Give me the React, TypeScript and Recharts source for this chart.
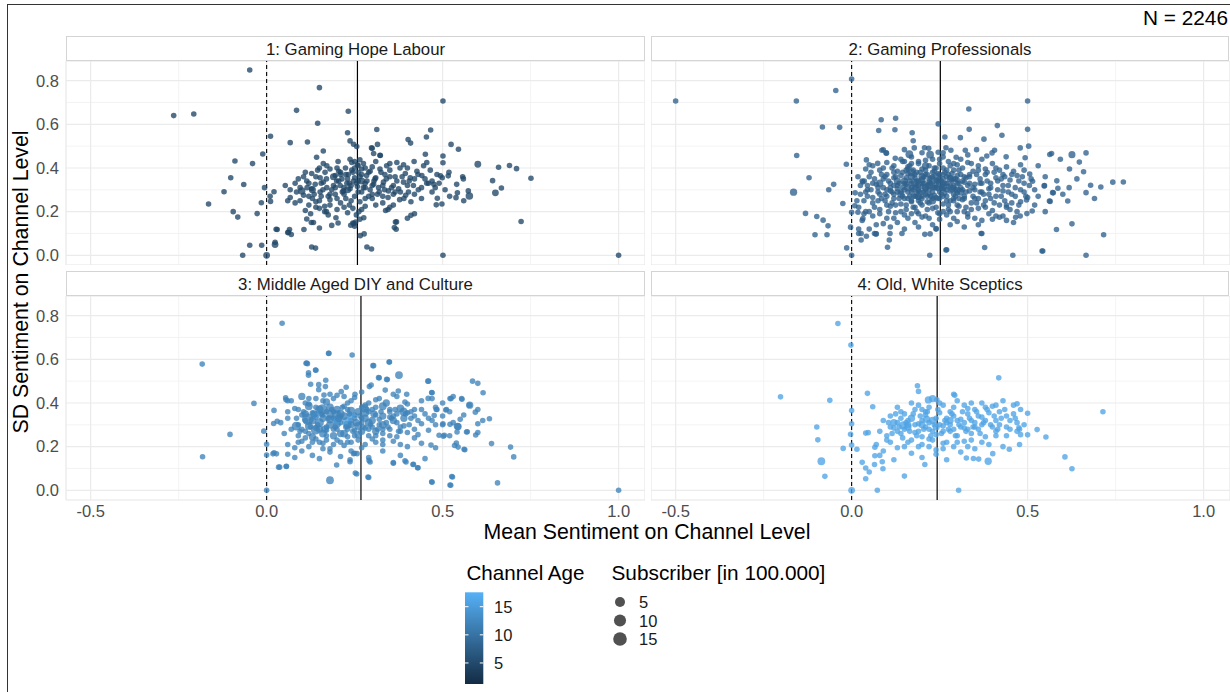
import React from 'react';
import { ScatterChart, Scatter, XAxis, YAxis, CartesianGrid, ReferenceLine } from 'recharts';

type Pt = number[]; // [mean sentiment, sd sentiment, subscribers (100k)?, channel age?]

const PANEL_TITLES = ['1: Gaming Hope Labour', '2: Gaming Professionals', '3: Middle Aged DIY and Culture', '4: Old, White Sceptics'];
const PANEL_MEANS = [0.258, 0.252, 0.268, 0.243];
const PANEL_AGES = [4.5, 8, 12, 16];
const X_TICKS = [-0.5, 0, 0.5, 1.0];
const X_MINOR = [-0.25, 0.25, 0.75];
const Y_TICKS = [0, 0.2, 0.4, 0.6, 0.8];
const Y_MINOR = [0.1, 0.3, 0.5, 0.7];
const X_DOMAIN = [-0.57, 1.075];
const Y_DOMAIN = [-0.0444, 0.89];
const AGE_LEGEND = [5, 10, 15];
const AGE_RANGE = [1.26, 17.56];
const SUB_LEGEND = [5, 10, 15];
const SUB_MAX = 17;
const N_TOTAL = 2246;

const P1: Pt[] = [
  [-0.048, 0.849], [-0.264, 0.64], [-0.207, 0.647], [0.15, 0.768], [0.085, 0.664], [0.232, 0.66], [0.145, 0.605], [0.23, 0.561], [0.011, 0.545], [0.067, 0.516], [0.116, 0.519], [-0.011, 0.464], [0.161, 0.478], [0.142, 0.449], [-0.09, 0.432], [-0.04, 0.42], [-0.102, 0.355], [-0.065, 0.324], [-0.121, 0.291], [-0.165, 0.235], [-0.095, 0.2], [-0.082, 0.175], [-0.027, 0.191], [-0.015, 0.241], [-0.006, 0.31], [0.021, 0.291], [0.011, 0.247], [0.03, 0.118], [0.062, 0.105], [0.065, 0.118], [-0.048, 0.046], [-0.014, 0.046], [0.024, 0.049, 0.6], [-0.068, 0], [0, 0, 0.6], [0.106, 0.118], [0.114, 0.166], [0.133, 0.15], [0.15, 0.125], [0.139, 0.033], [0.197, 0.172], [0.203, 0.148], [0.245, 0.148],
  [0.501, 0.707], [0.313, 0.576], [0.466, 0.574], [0.454, 0.542], [0.402, 0.53], [0.409, 0.514], [0.315, 0.508], [0.524, 0.508], [0.545, 0.486], [0.3, 0.49], [0.304, 0.466], [0.323, 0.457], [0.451, 0.463], [0.501, 0.455], [0.501, 0.424], [0.6, 0.417, 0.6], [0.659, 0.403], [0.69, 0.411], [0.71, 0.397], [0.751, 0.353], [0.642, 0.342], [0.667, 0.308], [0.65, 0.286, 0.6], [0.559, 0.35], [0.576, 0.272, 1.2], [0.542, 0.286], [0.538, 0.264], [0.485, 0.261], [0.482, 0.231], [0.41, 0.183], [0.369, 0.153], [0.368, 0.119], [0.723, 0.155], [0.277, 0.098], [0.298, 0.029], [0.501, 0], [1.0, 0], [0.248, 0.145], [0.25, 0.133], [0.276, 0.172], [0.338, 0.205], [0.494, 0.364], [0.516, 0.364], [0.475, 0.325], [0.46, 0.33], [0.47, 0.34],
  [0.237, 0.524], [0.247, 0.509], [0.256, 0.498], [0.298, 0.492], [0.322, 0.458],
  [0.161, 0.42], [0.171, 0.41], [0.203, 0.43], [0.237, 0.44], [0.242, 0.425], [0.25, 0.43], [0.258, 0.415], [0.265, 0.438], [0.275, 0.42], [0.341, 0.41], [0.37, 0.425], [0.389, 0.415], [0.419, 0.43], [0.446, 0.41], [0.455, 0.425], [0.3, 0.405], [0.31, 0.43],
  [0.105, 0.36], [0.128, 0.375], [0.145, 0.39], [0.152, 0.355], [0.166, 0.38], [0.18, 0.395], [0.195, 0.365], [0.205, 0.385], [0.214, 0.35], [0.224, 0.4], [0.232, 0.37], [0.242, 0.39], [0.25, 0.355], [0.26, 0.38], [0.27, 0.395], [0.284, 0.365], [0.294, 0.385], [0.308, 0.35], [0.322, 0.395], [0.336, 0.37], [0.35, 0.39], [0.365, 0.36], [0.379, 0.4], [0.394, 0.375], [0.408, 0.355], [0.427, 0.385], [0.441, 0.365], [0.465, 0.39], [0.484, 0.37], [0.499, 0.355], [0.518, 0.38], [0.557, 0.36],
  [0.053, 0.32], [0.067, 0.3], [0.081, 0.33], [0.095, 0.31], [0.1, 0.295, 1], [0.114, 0.34], [0.128, 0.305], [0.138, 0.325], [0.152, 0.29], [0.161, 0.335], [0.171, 0.31], [0.185, 0.3], [0.199, 0.34], [0.209, 0.32], [0.218, 0.295], [0.228, 0.33], [0.237, 0.305], [0.247, 0.34], [0.258, 0.315], [0.27, 0.29], [0.28, 0.33], [0.294, 0.3], [0.304, 0.325], [0.318, 0.31], [0.332, 0.335], [0.346, 0.295], [0.36, 0.32], [0.375, 0.305], [0.389, 0.335], [0.403, 0.29], [0.417, 0.32], [0.431, 0.3], [0.455, 0.33], [0.479, 0.31], [0.507, 0.3], [0.54, 0.325], [0.573, 0.295],
  [0.01, 0.27], [0.06, 0.25], [0.067, 0.265], [0.081, 0.24], [0.105, 0.275], [0.12, 0.23], [0.13, 0.26], [0.14, 0.245], [0.155, 0.27], [0.165, 0.225], [0.18, 0.255], [0.195, 0.28], [0.21, 0.24], [0.225, 0.26], [0.235, 0.23], [0.25, 0.27], [0.265, 0.245], [0.28, 0.225], [0.3, 0.26], [0.315, 0.28], [0.33, 0.24], [0.345, 0.265], [0.36, 0.23], [0.378, 0.255], [0.395, 0.275], [0.41, 0.245], [0.44, 0.26], [0.498, 0.235], [0.52, 0.27], [0.56, 0.25],
  [0.11, 0.205], [0.125, 0.19], [0.15, 0.215], [0.165, 0.2], [0.175, 0.185], [0.2, 0.21], [0.23, 0.195], [0.245, 0.215], [0.255, 0.185], [0.262, 0.2], [0.345, 0.21], [0.42, 0.19],
  [0.027, 0.119], [0.06, 0.104], [0.07, 0.095], [0.127, 0.15], [0.185, 0.137], [0.239, 0.138], [0.253, 0.152], [0.265, 0.165], [0.266, 0.09], [0.366, 0.152], [0.363, 0.127], [0.4, 0.17], [0.024, 0.06], [0.128, 0.038], [0.285, 0.038],
];

const P1_CORE: Pt[] = [
  [0.09, 0.35], [0.12, 0.33], [0.14, 0.36], [0.16, 0.3], [0.17, 0.35], [0.19, 0.32], [0.21, 0.37], [0.22, 0.31], [0.23, 0.35], [0.24, 0.32], [0.245, 0.38], [0.255, 0.33], [0.265, 0.36], [0.275, 0.31], [0.285, 0.34], [0.29, 0.38], [0.3, 0.32], [0.31, 0.355], [0.32, 0.29], [0.33, 0.32], [0.34, 0.35], [0.355, 0.31], [0.37, 0.34], [0.38, 0.29], [0.4, 0.32], [0.42, 0.35], [0.44, 0.31],
  [0.12, 0.27], [0.15, 0.25], [0.18, 0.28], [0.2, 0.26], [0.22, 0.28], [0.24, 0.25], [0.26, 0.29], [0.28, 0.26], [0.3, 0.28], [0.33, 0.27], [0.36, 0.28], [0.39, 0.26], [0.42, 0.28], [0.2, 0.4], [0.26, 0.41], [0.28, 0.4], [0.35, 0.42], [0.4, 0.4], [0.15, 0.4], [0.11, 0.38], [0.13, 0.3, 0.8], [0.19, 0.36, 0.8], [0.23, 0.3, 0.8], [0.27, 0.34, 0.8],
  [0.085, 0.29], [0.095, 0.25], [0.115, 0.31], [0.135, 0.28], [0.155, 0.33], [0.175, 0.27], [0.195, 0.31], [0.205, 0.34], [0.215, 0.29], [0.225, 0.37], [0.235, 0.33], [0.26, 0.34], [0.27, 0.37], [0.28, 0.31], [0.29, 0.27], [0.305, 0.34], [0.325, 0.38], [0.335, 0.3], [0.35, 0.36], [0.365, 0.29], [0.385, 0.36], [0.405, 0.34], [0.43, 0.37], [0.45, 0.35], [0.47, 0.29], [0.49, 0.33], [0.14, 0.22], [0.18, 0.23], [0.22, 0.22], [0.27, 0.21], [0.31, 0.23], [0.35, 0.22], [0.17, 0.2], [0.21, 0.38], [0.25, 0.4],
];

const P2: Pt[] = [
  [-0.5, 0.707], [-0.157, 0.707], [-0.045, 0.755], [0, 0.807], [-0.083, 0.588], [-0.034, 0.586], [-0.156, 0.457], [-0.015, 0.417], [-0.121, 0.355], [-0.051, 0.325], [-0.065, 0.3], [-0.165, 0.289, 1], [-0.025, 0.237], [-0.131, 0.192], [-0.099, 0.178], [-0.081, 0.161], [-0.067, 0.135], [-0.104, 0.094], [-0.07, 0.094], [-0.014, 0.034], [0, 0], [0, 0.197], [-0.003, 0.129], [0.01, 0.286], [0.018, 0.36], [0.032, 0.336], [0.009, 0.227], [0.018, 0.197], [0.032, 0.168], [0.02, 0.1], [0.027, 0.1], [0.042, 0.087], [0.065, 0.1], [0.07, 0.098], [0.102, 0.037], [0.109, 0.1], [0.084, 0.621], [0.125, 0.628], [0.077, 0.572], [0.123, 0.575], [0.172, 0.561], [0.175, 0.525], [0.246, 0.602], [0.222, 0], [0.04, 0.395], [0.05, 0.415], [0.036, 0.34], [0.09, 0.483], [0.099, 0.468],
  [0.5, 0.707], [0.333, 0.67], [0.334, 0.577], [0.414, 0.594], [0.427, 0.55], [0.5, 0.577], [0.265, 0.542], [0.309, 0.539], [0.376, 0.532], [0.503, 0.5], [0.479, 0.492], [0.568, 0.466], [0.593, 0.44], [0.626, 0.461, 0.8], [0.666, 0.469], [0.647, 0.427], [0.619, 0.395], [0.659, 0.383], [0.506, 0.372], [0.514, 0.339], [0.548, 0.319], [0.583, 0.341], [0.586, 0.307], [0.573, 0.286], [0.618, 0.31], [0.679, 0.321], [0.708, 0.313], [0.742, 0.335], [0.772, 0.336], [0.666, 0.287], [0.564, 0.247], [0.614, 0.249], [0.497, 0.253], [0.513, 0.203], [0.498, 0.191], [0.466, 0.174], [0.44, 0.22], [0.42, 0.174], [0.582, 0.118], [0.626, 0.144], [0.716, 0.094], [0.37, 0.1], [0.378, 0.036], [0.27, 0.025], [0.458, 0], [0.543, 0.02], [0.666, 0],
  [0.06, 0.41], [0.08, 0.39], [0.1, 0.425], [0.115, 0.4], [0.13, 0.385], [0.145, 0.43], [0.16, 0.405], [0.175, 0.39], [0.19, 0.42], [0.2, 0.395], [0.21, 0.435], [0.22, 0.41], [0.235, 0.385], [0.25, 0.42], [0.26, 0.4], [0.275, 0.43], [0.29, 0.39], [0.3, 0.415], [0.315, 0.4], [0.33, 0.425], [0.345, 0.385], [0.36, 0.41], [0.38, 0.395], [0.4, 0.42], [0.42, 0.39], [0.44, 0.405], [0.46, 0.385], [0.48, 0.415],
  [0.03, 0.34], [0.05, 0.36], [0.07, 0.325], [0.09, 0.35], [0.1, 0.37], [0.11, 0.33], [0.12, 0.355], [0.13, 0.32], [0.14, 0.365], [0.15, 0.34, 1], [0.16, 0.375], [0.17, 0.33], [0.18, 0.355], [0.19, 0.32], [0.2, 0.345, 1], [0.21, 0.37], [0.22, 0.335], [0.23, 0.36], [0.24, 0.325], [0.25, 0.35], [0.26, 0.37], [0.27, 0.33], [0.28, 0.355], [0.29, 0.32], [0.3, 0.345], [0.31, 0.37], [0.32, 0.335], [0.335, 0.36], [0.35, 0.325], [0.365, 0.35], [0.38, 0.37], [0.395, 0.33], [0.41, 0.355], [0.43, 0.32], [0.45, 0.345], [0.47, 0.365], [0.49, 0.33], [0.51, 0.35],
  [0.025, 0.28], [0.045, 0.3], [0.06, 0.265], [0.075, 0.29], [0.09, 0.31], [0.1, 0.27], [0.11, 0.295], [0.12, 0.26], [0.13, 0.305], [0.14, 0.28, 1], [0.15, 0.26], [0.16, 0.29], [0.17, 0.31], [0.18, 0.27], [0.19, 0.295], [0.2, 0.26], [0.21, 0.3], [0.22, 0.28], [0.23, 0.31], [0.24, 0.265], [0.25, 0.29], [0.26, 0.305], [0.27, 0.27], [0.28, 0.295], [0.29, 0.26], [0.3, 0.285], [0.31, 0.31], [0.32, 0.27], [0.335, 0.295], [0.35, 0.26], [0.37, 0.29], [0.39, 0.305], [0.41, 0.27], [0.43, 0.295], [0.455, 0.28], [0.48, 0.3], [0.5, 0.265],
  [0.02, 0.22], [0.04, 0.2], [0.06, 0.24], [0.08, 0.21], [0.095, 0.25], [0.11, 0.225], [0.125, 0.195], [0.14, 0.235], [0.155, 0.21], [0.17, 0.25], [0.185, 0.2], [0.2, 0.23], [0.215, 0.245], [0.23, 0.215], [0.245, 0.195], [0.26, 0.235], [0.275, 0.21], [0.29, 0.25], [0.305, 0.225], [0.32, 0.2], [0.34, 0.24], [0.36, 0.215], [0.38, 0.25], [0.4, 0.205], [0.42, 0.23], [0.45, 0.21], [0.48, 0.245],
  [0.03, 0.16], [0.06, 0.18], [0.09, 0.145], [0.12, 0.17], [0.15, 0.185], [0.18, 0.15], [0.2, 0.175], [0.23, 0.14], [0.25, 0.165], [0.27, 0.185], [0.3, 0.155], [0.33, 0.175], [0.36, 0.14], [0.4, 0.165], [0.43, 0.18], [0.46, 0.15],
  [0.145, 0.31], [0.155, 0.355], [0.165, 0.27], [0.175, 0.3], [0.185, 0.34], [0.195, 0.38], [0.205, 0.29], [0.215, 0.32], [0.225, 0.355], [0.235, 0.275], [0.245, 0.305], [0.255, 0.34], [0.265, 0.285], [0.275, 0.315], [0.285, 0.375], [0.295, 0.3], [0.305, 0.33], [0.315, 0.255], [0.325, 0.355], [0.17, 0.245], [0.19, 0.265], [0.21, 0.39], [0.23, 0.335], [0.25, 0.26], [0.27, 0.36], [0.29, 0.28], [0.155, 0.325], [0.185, 0.285], [0.215, 0.27], [0.245, 0.375], [0.16, 0.395], [0.2, 0.315], [0.24, 0.345], [0.28, 0.25], [0.22, 0.3], [0.26, 0.325], [0.3, 0.365], [0.18, 0.37], [0.14, 0.29], [0.12, 0.32],
  [0.086, 0.481], [0.098, 0.469], [0.15, 0.484], [0.178, 0.492], [0.207, 0.493], [0.219, 0.49], [0.268, 0.493], [0.282, 0.481], [0.323, 0.481], [0.355, 0.484], [0.384, 0.455], [0.399, 0.469], [0.406, 0.481], [0.439, 0.451], [0.493, 0.447], [0.042, 0.437], [0.074, 0.421], [0.124, 0.444], [0.164, 0.463, 1.5], [0.223, 0.461, 1.5], [0.246, 0.472], [0.297, 0.449],
  [0.027, 0.07], [0.069, 0.098], [0.107, 0.07], [0.143, 0.1], [0.208, 0.096], [0.223, 0.098], [0.24, 0.122], [0.268, 0.024], [0.368, 0.1], [0.541, 0.02], [0.547, 0.318], [0.563, 0.462], [0.571, 0.287], [0.562, 0.249], [0.479, 0.18],
];

const P2_CORE: Pt[] = [
  [0.055, 0.3], [0.065, 0.35], [0.075, 0.25], [0.085, 0.37], [0.095, 0.28], [0.105, 0.34], [0.115, 0.24], [0.125, 0.36], [0.135, 0.26], [0.145, 0.38], [0.155, 0.23], [0.165, 0.41], [0.175, 0.27], [0.185, 0.32], [0.195, 0.24], [0.205, 0.36], [0.215, 0.21], [0.225, 0.33], [0.235, 0.4], [0.245, 0.26], [0.255, 0.31], [0.265, 0.38], [0.275, 0.23], [0.285, 0.34], [0.295, 0.27], [0.305, 0.39], [0.315, 0.3], [0.325, 0.22], [0.335, 0.33], [0.345, 0.27], [0.355, 0.37], [0.365, 0.29], [0.375, 0.23], [0.385, 0.34], [0.395, 0.26], [0.405, 0.38], [0.415, 0.3], [0.425, 0.35], [0.435, 0.25], [0.445, 0.32], [0.455, 0.37], [0.465, 0.27], [0.475, 0.34], [0.49, 0.29], [0.505, 0.32],
  [0.08, 0.33, 1], [0.11, 0.31], [0.13, 0.34, 1], [0.15, 0.3], [0.17, 0.36, 1], [0.19, 0.34], [0.21, 0.31, 1], [0.23, 0.29], [0.25, 0.33, 1], [0.27, 0.3], [0.29, 0.35], [0.31, 0.29, 1], [0.33, 0.32], [0.35, 0.3], [0.37, 0.33], [0.39, 0.28], [0.16, 0.26], [0.18, 0.22], [0.2, 0.27], [0.22, 0.24], [0.24, 0.22], [0.26, 0.27], [0.28, 0.2], [0.3, 0.23], [0.32, 0.26], [0.34, 0.21], [0.36, 0.26], [0.38, 0.22], [0.12, 0.28], [0.1, 0.23], [0.08, 0.19], [0.14, 0.2], [0.16, 0.17], [0.19, 0.19], [0.22, 0.17], [0.26, 0.2], [0.3, 0.2], [0.35, 0.17], [0.39, 0.19], [0.44, 0.23], [0.47, 0.2], [0.05, 0.2], [0.035, 0.25], [0.045, 0.32],
  [0.09, 0.4], [0.12, 0.41], [0.14, 0.44], [0.17, 0.45], [0.19, 0.43], [0.23, 0.44], [0.26, 0.45], [0.28, 0.41], [0.31, 0.44], [0.34, 0.42], [0.37, 0.44], [0.41, 0.4], [0.43, 0.37], [0.2, 0.47], [0.26, 0.47], [0.33, 0.46], [0.17, 0.42], [0.24, 0.4], [0.29, 0.42], [0.36, 0.39],
  [0.18, 0.31], [0.2, 0.33], [0.22, 0.35], [0.24, 0.31], [0.26, 0.35], [0.28, 0.32], [0.21, 0.28], [0.23, 0.38], [0.25, 0.37], [0.27, 0.39], [0.19, 0.3], [0.17, 0.29], [0.15, 0.33], [0.13, 0.29], [0.3, 0.33], [0.32, 0.36], [0.27, 0.25], [0.23, 0.26], [0.19, 0.25], [0.29, 0.31],
  [0.52, 0.3], [0.53, 0.27], [0.55, 0.36], [0.6, 0.28], [0.64, 0.35], [0.69, 0.26], [0.52, 0.23], [0.55, 0.2], [0.49, 0.39], [0.53, 0.41],
  [0.015, 0.25], [0.025, 0.32], [0.035, 0.19], [0.045, 0.27], [0.055, 0.38], [0.065, 0.22], [0.075, 0.31], [0.085, 0.26], [0.095, 0.36], [0.105, 0.2], [0.115, 0.29], [0.125, 0.23], [0.135, 0.33], [0.145, 0.27], [0.155, 0.39], [0.165, 0.34], [0.175, 0.22], [0.185, 0.38], [0.195, 0.29], [0.205, 0.33], [0.215, 0.37], [0.225, 0.27], [0.235, 0.31], [0.245, 0.34], [0.255, 0.28], [0.265, 0.33], [0.275, 0.37], [0.285, 0.3], [0.295, 0.35], [0.305, 0.26], [0.315, 0.34], [0.325, 0.29], [0.335, 0.37], [0.345, 0.31], [0.355, 0.24], [0.365, 0.33], [0.375, 0.28], [0.385, 0.38], [0.395, 0.31], [0.405, 0.24], [0.415, 0.34], [0.425, 0.27], [0.435, 0.36], [0.445, 0.29], [0.455, 0.24], [0.465, 0.31], [0.475, 0.23], [0.485, 0.36], [0.495, 0.27],
  [0.16, 0.31, 1], [0.18, 0.33, 1.5], [0.2, 0.36, 1], [0.22, 0.32, 1], [0.24, 0.36, 1], [0.26, 0.31, 1], [0.28, 0.35, 1], [0.3, 0.3, 1], [0.19, 0.27, 1], [0.23, 0.25, 1], [0.17, 0.38, 1.5], [0.21, 0.41, 1], [0.25, 0.44], [0.15, 0.43], [0.12, 0.38], [0.1, 0.3], [0.08, 0.28], [0.06, 0.33], [0.04, 0.29], [0.1, 0.17], [0.13, 0.15], [0.17, 0.19], [0.21, 0.18], [0.25, 0.19], [0.29, 0.17], [0.33, 0.19], [0.37, 0.16], [0.41, 0.18], [0.44, 0.16], [0.07, 0.14], [0.11, 0.13], [0.15, 0.12], [0.19, 0.13], [0.24, 0.12], [0.28, 0.14], [0.32, 0.13], [0.02, 0.12], [0.05, 0.12],
];

const P3: Pt[] = [
  [0.044, 0.765], [-0.183, 0.578], [-0.182, 0.154], [-0.104, 0.256], [-0.036, 0.398], [-0.008, 0.271], [0, 0.211], [0, 0.162], [0, 0], [0.018, 0.167], [0.028, 0.167], [0.02, 0.306], [0.03, 0.316], [0.021, 0.366], [0.037, 0.106], [0.056, 0.109], [0.055, 0.415], [0.06, 0.41], [0.114, 0.583], [0.116, 0.58], [0.14, 0.55], [0.119, 0.538], [0.177, 0.628], [0.18, 0.046, 1.5], [0.168, 0.504], [0.148, 0.484], [0.125, 0.486],
  [0.243, 0.62], [0.349, 0.588], [0.304, 0.571], [0.376, 0.528, 1.5], [0.32, 0.515], [0.343, 0.507], [0.46, 0.5], [0.585, 0.5], [0.6, 0.49], [0.615, 0.447], [0.47, 0.447], [0.459, 0.421], [0.524, 0.42], [0.555, 0.417], [0.577, 0.39, 1], [0.593, 0.358], [0.484, 0.37], [0.511, 0.37], [0.633, 0.328], [0.614, 0.32], [0.544, 0.292, 1], [0.521, 0.302], [0.57, 0.268], [0.594, 0.253], [0.639, 0.214], [0.693, 0.198], [0.702, 0.153], [0.563, 0.186], [0.539, 0.217], [0.544, 0.198], [0.49, 0.252], [0.505, 0.252], [0.467, 0.207], [0.43, 0.103], [0.416, 0.118], [0.396, 0.13], [0.36, 0.124], [0.294, 0.13], [0.256, 0.075], [0.29, 0.059], [0.47, 0.037], [0.523, 0.023], [0.528, 0.061], [0.656, 0.034], [1.0, 0], [0.247, 0.168], [0.257, 0.168], [0.237, 0.131],
  [0.07, 0.41], [0.1, 0.43, 1], [0.12, 0.395], [0.14, 0.42], [0.17, 0.405, 1], [0.2, 0.435], [0.23, 0.4], [0.25, 0.425], [0.28, 0.39], [0.31, 0.415], [0.34, 0.4, 1], [0.37, 0.43], [0.4, 0.395], [0.44, 0.41], [0.47, 0.42], [0.5, 0.4], [0.53, 0.43],
  [0.06, 0.36], [0.08, 0.375], [0.1, 0.345], [0.12, 0.385, 1.5], [0.13, 0.355], [0.15, 0.37, 2], [0.16, 0.345], [0.18, 0.38, 1.5], [0.19, 0.36], [0.21, 0.35, 2], [0.22, 0.385], [0.24, 0.365, 1.5], [0.25, 0.345], [0.27, 0.38], [0.28, 0.355, 1.5], [0.3, 0.37], [0.31, 0.345], [0.33, 0.385, 1.5], [0.35, 0.36], [0.36, 0.34], [0.38, 0.375, 1.5], [0.4, 0.355], [0.42, 0.37], [0.45, 0.35], [0.48, 0.38], [0.52, 0.36], [0.56, 0.345], [0.6, 0.37],
  [0.04, 0.31], [0.06, 0.33], [0.09, 0.3], [0.11, 0.32], [0.12, 0.295, 1.5], [0.14, 0.335], [0.15, 0.31, 3], [0.17, 0.29], [0.18, 0.325, 2], [0.2, 0.305, 1.5], [0.21, 0.335], [0.23, 0.3, 2], [0.24, 0.32], [0.26, 0.295, 1.5], [0.27, 0.33], [0.29, 0.31, 1.5], [0.3, 0.29], [0.32, 0.325], [0.33, 0.3, 1.5], [0.35, 0.335], [0.37, 0.31], [0.39, 0.295], [0.41, 0.33], [0.44, 0.305], [0.47, 0.32], [0.5, 0.3], [0.55, 0.325], [0.6, 0.305],
  [0.05, 0.26], [0.07, 0.28], [0.09, 0.25], [0.11, 0.27], [0.13, 0.245, 1], [0.14, 0.285], [0.16, 0.26, 1.5], [0.17, 0.275], [0.19, 0.25, 1], [0.2, 0.28], [0.22, 0.26, 1.5], [0.23, 0.245], [0.25, 0.275], [0.26, 0.255, 1], [0.28, 0.285], [0.29, 0.25], [0.31, 0.27, 1], [0.33, 0.26], [0.35, 0.28], [0.37, 0.245], [0.4, 0.265], [0.43, 0.255], [0.46, 0.275], [0.52, 0.25], [0.6, 0.265],
  [0.06, 0.21], [0.08, 0.195], [0.1, 0.225], [0.12, 0.2], [0.14, 0.235], [0.16, 0.215], [0.18, 0.19], [0.2, 0.23], [0.22, 0.205], [0.24, 0.22], [0.27, 0.195], [0.3, 0.235], [0.33, 0.21], [0.36, 0.225], [0.4, 0.2], [0.44, 0.215], [0.48, 0.195],
  [0.06, 0.165], [0.08, 0.15], [0.1, 0.18], [0.13, 0.16], [0.15, 0.145], [0.18, 0.175], [0.21, 0.155], [0.25, 0.17], [0.29, 0.15], [0.33, 0.18], [0.38, 0.16], [0.45, 0.145],
  [0.228, 0.314, 4, 15], [0.278, 0.376, 2.5], [0.389, 0.36, 2.5], [0.084, 0.294, 3], [0.117, 0.326, 9], [0.158, 0.37, 6], [0.139, 0.277, 4], [0.199, 0.345, 4],
  [0.112, 0.582], [0.139, 0.551], [0.119, 0.527], [0.302, 0.571], [0.348, 0.588], [0.318, 0.516], [0.341, 0.508], [0.458, 0.5], [0.469, 0.448], [0.054, 0.424], [0.148, 0.461], [0.167, 0.475], [0.163, 0.436], [0.226, 0.472], [0.212, 0.452], [0.251, 0.44], [0.292, 0.475], [0.297, 0.482], [0.337, 0.459], [0.374, 0.455], [0.398, 0.44], [0.393, 0.404], [0.176, 0.627],
  [0.521, 0.42], [0.554, 0.42], [0.576, 0.39], [0.482, 0.37], [0.509, 0.368], [0.476, 0.343], [0.501, 0.305], [0.542, 0.293, 1], [0.568, 0.267], [0.502, 0.248], [0.541, 0.267], [0.561, 0.188], [0.534, 0.205], [0.526, 0.063], [0.521, 0.024], [0.469, 0.039], [0.417, 0.119], [0.393, 0.135], [0.429, 0.103], [0.36, 0.127], [0.291, 0.137], [0.288, 0.061], [0.252, 0.079], [0.237, 0.14], [0.199, 0.116], [0.021, 0.172], [0.034, 0.106], [0.056, 0.11],
];

const P3_CORE: Pt[] = [
  [0.09, 0.37], [0.11, 0.35, 1], [0.13, 0.32, 1.5], [0.14, 0.38], [0.16, 0.33, 1], [0.17, 0.36], [0.18, 0.3, 1.5], [0.19, 0.33], [0.2, 0.37, 1], [0.21, 0.31], [0.22, 0.34, 1.5], [0.23, 0.37], [0.24, 0.3, 1], [0.25, 0.33], [0.26, 0.36, 1], [0.27, 0.31], [0.28, 0.33, 1], [0.29, 0.36], [0.3, 0.32, 1], [0.31, 0.38], [0.32, 0.3], [0.33, 0.34, 1], [0.34, 0.31], [0.35, 0.37], [0.36, 0.32, 1], [0.37, 0.35], [0.38, 0.29], [0.39, 0.33, 1], [0.41, 0.36], [0.43, 0.32],
  [0.1, 0.28], [0.12, 0.26], [0.15, 0.28, 1], [0.17, 0.25], [0.19, 0.28], [0.21, 0.26, 1], [0.23, 0.28], [0.25, 0.25], [0.27, 0.27, 1], [0.29, 0.28], [0.31, 0.25], [0.33, 0.28], [0.35, 0.25], [0.38, 0.27], [0.42, 0.28], [0.13, 0.22], [0.17, 0.23], [0.21, 0.22], [0.26, 0.23], [0.31, 0.22],
  [0.11, 0.4], [0.16, 0.41], [0.19, 0.42], [0.24, 0.41], [0.29, 0.4], [0.32, 0.42], [0.14, 0.345, 1, 15], [0.2, 0.32, 1.5, 14], [0.24, 0.34, 1, 15], [0.18, 0.35, 1.5],
  [0.085, 0.33], [0.095, 0.27], [0.105, 0.36], [0.125, 0.29], [0.135, 0.35, 1], [0.145, 0.3], [0.155, 0.35], [0.165, 0.28, 1], [0.175, 0.33], [0.185, 0.37], [0.195, 0.29], [0.205, 0.33, 1], [0.215, 0.38], [0.225, 0.29], [0.235, 0.35], [0.245, 0.27], [0.255, 0.31, 1], [0.265, 0.34], [0.275, 0.29], [0.285, 0.37], [0.295, 0.3], [0.305, 0.35, 1], [0.315, 0.28], [0.325, 0.36], [0.345, 0.29], [0.355, 0.33], [0.365, 0.37], [0.375, 0.27], [0.395, 0.35], [0.405, 0.3], [0.42, 0.34], [0.44, 0.37], [0.46, 0.33], [0.48, 0.3], [0.5, 0.34], [0.53, 0.31],
  [0.11, 0.24], [0.15, 0.22], [0.19, 0.21], [0.23, 0.22], [0.28, 0.21], [0.33, 0.23], [0.38, 0.21], [0.42, 0.24], [0.09, 0.22], [0.16, 0.19], [0.24, 0.18], [0.12, 0.42], [0.18, 0.44], [0.22, 0.43], [0.27, 0.45], [0.36, 0.44],
];

const P4: Pt[] = [
  [-0.039, 0.764], [-0.002, 0.665], [-0.202, 0.428], [-0.062, 0.412], [0, 0.365], [0, 0.305], [-0.099, 0.29], [-0.096, 0.231], [-0.003, 0.257], [0, 0.207], [-0.024, 0.192], [0.015, 0.188], [-0.086, 0.133, 1.5], [-0.076, 0.064], [0, 0, 0.6], [0.03, 0.128], [0.04, 0.102], [0.05, 0.084], [0.04, 0.053], [0.073, 0], [0.04, 0.262], [0.047, 0.264], [0.045, 0.444], [0.06, 0.383], [0.065, 0.118], [0.066, 0.158], [0.066, 0.197], [0.087, 0.131], [0.089, 0.099], [0.147, 0.297, 2], [0.15, 0.065], [0.187, 0.479], [0.19, 0.453], [0.218, 0.414, 1], [0.213, 0.326, 1], [0.208, 0.118], [0.242, 0.415],
  [0.418, 0.515], [0.29, 0.44], [0.293, 0.435], [0.47, 0.396], [0.5, 0.353], [0.714, 0.36], [0.527, 0.278], [0.552, 0.244], [0.5, 0.254], [0.475, 0.286], [0.477, 0.28], [0.477, 0.21], [0.448, 0.188], [0.606, 0.153], [0.626, 0.099], [0.304, 0], [0.388, 0.133, 1], [0.361, 0.143], [0.346, 0.146], [0.326, 0.148], [0.401, 0.168],
  [0.13, 0.38], [0.17, 0.4], [0.2, 0.37], [0.23, 0.42, 1], [0.26, 0.39], [0.3, 0.41], [0.33, 0.375], [0.37, 0.4], [0.4, 0.385], [0.43, 0.41], [0.46, 0.39],
  [0.09, 0.32], [0.11, 0.34], [0.13, 0.31], [0.15, 0.35], [0.17, 0.33, 1], [0.19, 0.305], [0.21, 0.345], [0.23, 0.32, 1], [0.25, 0.355], [0.27, 0.31], [0.29, 0.34], [0.31, 0.325], [0.33, 0.35], [0.35, 0.31], [0.37, 0.335], [0.39, 0.355], [0.41, 0.32], [0.44, 0.34], [0.47, 0.31],
  [0.08, 0.27], [0.1, 0.25], [0.12, 0.285], [0.14, 0.26], [0.16, 0.29, 1], [0.18, 0.265], [0.2, 0.245], [0.22, 0.28], [0.24, 0.255], [0.26, 0.295], [0.28, 0.27], [0.3, 0.25], [0.32, 0.285], [0.34, 0.26], [0.36, 0.28], [0.38, 0.245], [0.41, 0.27], [0.44, 0.29], [0.48, 0.255],
  [0.07, 0.21], [0.1, 0.23], [0.13, 0.195], [0.16, 0.22], [0.19, 0.2], [0.22, 0.235], [0.24, 0.185], [0.26, 0.215], [0.29, 0.2], [0.32, 0.225], [0.35, 0.19], [0.39, 0.21], [0.43, 0.2],
  [0.08, 0.16], [0.12, 0.14], [0.17, 0.17], [0.2, 0.15], [0.24, 0.165], [0.27, 0.14], [0.31, 0.175],
];

const P4_CORE: Pt[] = [
  [0.11, 0.29], [0.13, 0.27], [0.14, 0.33], [0.15, 0.28], [0.16, 0.32], [0.18, 0.3], [0.19, 0.27], [0.2, 0.32], [0.21, 0.29], [0.22, 0.31], [0.23, 0.27], [0.24, 0.33], [0.25, 0.3], [0.26, 0.27], [0.27, 0.33], [0.28, 0.3], [0.29, 0.28], [0.3, 0.32], [0.31, 0.29], [0.32, 0.31], [0.33, 0.28], [0.34, 0.32], [0.35, 0.29], [0.36, 0.34], [0.37, 0.3], [0.38, 0.32], [0.4, 0.29], [0.42, 0.3], [0.45, 0.32],
  [0.17, 0.23], [0.2, 0.21], [0.23, 0.23], [0.27, 0.22], [0.3, 0.22], [0.34, 0.23], [0.14, 0.36], [0.18, 0.37], [0.22, 0.38], [0.28, 0.36], [0.32, 0.39], [0.35, 0.37], [0.42, 0.36], [0.46, 0.35], [0.49, 0.3],
  [0.105, 0.31], [0.115, 0.26], [0.125, 0.35], [0.135, 0.29], [0.145, 0.24], [0.155, 0.31], [0.165, 0.27], [0.175, 0.35], [0.185, 0.25], [0.195, 0.34], [0.205, 0.28], [0.215, 0.36], [0.225, 0.25], [0.235, 0.3], [0.245, 0.37], [0.255, 0.26], [0.265, 0.32], [0.275, 0.28], [0.285, 0.35], [0.295, 0.25], [0.305, 0.3], [0.315, 0.36], [0.325, 0.27], [0.335, 0.33], [0.345, 0.29], [0.355, 0.36], [0.365, 0.26], [0.375, 0.31], [0.385, 0.37], [0.395, 0.3], [0.405, 0.34], [0.415, 0.28], [0.425, 0.33], [0.435, 0.37], [0.45, 0.28], [0.465, 0.33], [0.48, 0.37],
  [0.12, 0.31, 0.8], [0.16, 0.3, 0.8], [0.2, 0.3, 0.8], [0.24, 0.29, 0.8], [0.28, 0.32, 0.8], [0.21, 0.36], [0.25, 0.4], [0.29, 0.38], [0.34, 0.4], [0.38, 0.38], [0.41, 0.39], [0.19, 0.39], [0.15, 0.2], [0.11, 0.22], [0.09, 0.18], [0.22, 0.2], [0.26, 0.19], [0.33, 0.2], [0.37, 0.22], [0.41, 0.25], [0.44, 0.25], [0.47, 0.27],
];

const PANEL_DATA = [P1.concat(P1_CORE), P2.concat(P2_CORE), P3.concat(P3_CORE), P4.concat(P4_CORE)];

const LOW = [19, 43, 67];
const HIGH = [86, 177, 247];
const FONT = '"Liberation Sans", Arial, Helvetica, sans-serif';
const DIAM_RANGE = [5.1, 14.2];
const DEFAULT_SUB = 0.05;

function ageColor(age: number) {
  const t = Math.max(0, Math.min(1, (age - AGE_RANGE[0]) / (AGE_RANGE[1] - AGE_RANGE[0])));
  const c = LOW.map((l, i) => Math.round(l + (HIGH[i] - l) * t));
  return `rgb(${c[0]},${c[1]},${c[2]})`;
}
// ggplot-like area palette: diameter grows linearly with sqrt of the value
function subRadius(s: number) {
  const t = Math.sqrt(Math.max(0, s) / SUB_MAX);
  return (DIAM_RANGE[0] + (DIAM_RANGE[1] - DIAM_RANGE[0]) * t) / 2;
}
const fmt = (v: number) => v.toFixed(1);
const tickStyle = { fill: '#4d4d4d', fontSize: 16.5, fontFamily: FONT };

const Dot = (p: any) => {
  if (p.cx == null || p.cy == null) return <g />;
  const d = p.payload;
  return <circle cx={p.cx} cy={p.cy} r={subRadius(d.s)} fill={ageColor(d.age)} fillOpacity={0.78} />;
};

function Panel(props: { idx: number; left: number; top: number; width: number; height: number; showX: boolean; showY: boolean }) {
  const { idx, left, top, width, height, showX, showY } = props;
  const data = PANEL_DATA[idx].map((p) => ({ x: p[0], y: p[1], s: p[2] ?? DEFAULT_SUB, age: p[3] ?? PANEL_AGES[idx] }));
  return (
    <div style={{ position: 'absolute', left, top }}>
      <ScatterChart width={width} height={height} margin={{ top: 0, right: 0, bottom: 0, left: 0 }}>
        <CartesianGrid xAxisId="minor" yAxisId="minor" stroke="#f0f0f0" strokeWidth={0.8} />
        <CartesianGrid stroke="#ebebeb" strokeWidth={1.2} />
        <XAxis type="number" dataKey="x" domain={X_DOMAIN} ticks={X_TICKS} allowDataOverflow hide={!showX} height={30}
          axisLine={false} tickLine={false} tickSize={0} tickMargin={5.5} tickFormatter={fmt} tick={tickStyle} interval={0} />
        <XAxis xAxisId="minor" type="number" dataKey="x" domain={X_DOMAIN} ticks={X_MINOR} allowDataOverflow hide />
        <YAxis type="number" dataKey="y" domain={Y_DOMAIN} ticks={Y_TICKS} allowDataOverflow hide={!showY} width={66}
          axisLine={false} tickLine={false} tickSize={0} tickMargin={7} tickFormatter={fmt} tick={tickStyle} interval={0} />
        <YAxis yAxisId="minor" type="number" dataKey="y" domain={Y_DOMAIN} ticks={Y_MINOR} allowDataOverflow hide />
        <Scatter data={data} isAnimationActive={false} shape={Dot} />
        <ReferenceLine x={0} stroke="#000" strokeWidth={1.1} strokeDasharray="4 3" />
        <ReferenceLine x={PANEL_MEANS[idx]} stroke="#000" strokeWidth={1.2} />
      </ScatterChart>
    </div>
  );
}

const BAR = { x: 465, y: 592.3, w: 18.3, h: 91.7 };
function ageY(a: number) {
  return BAR.y + ((AGE_RANGE[1] - a) / (AGE_RANGE[1] - AGE_RANGE[0])) * BAR.h;
}

export default function App() {
  const strips = [
    { x: 66, y: 36, w: 579 },
    { x: 651, y: 36, w: 578 },
    { x: 66, y: 271, w: 579 },
    { x: 651, y: 271, w: 578 },
  ];
  return (
    <div style={{ position: 'absolute', left: 0, top: 0, width: 1230, height: 692, background: '#fff', overflow: 'hidden', fontFamily: FONT }}>
      <Panel idx={0} left={0} top={61} width={645} height={204} showX={false} showY />
      <Panel idx={1} left={651} top={61} width={579} height={204} showX={false} showY={false} />
      <Panel idx={2} left={0} top={296} width={645} height={234} showX showY />
      <Panel idx={3} left={651} top={296} width={579} height={234} showX showY={false} />
      <svg width={1230} height={692} style={{ position: 'absolute', left: 0, top: 0, pointerEvents: 'none' }} fontFamily={FONT}>
        <defs>
          <linearGradient id="ageGrad" x1="0" y1="0" x2="0" y2="1">
            <stop offset="0" stopColor={ageColor(AGE_RANGE[1])} />
            <stop offset="1" stopColor={ageColor(AGE_RANGE[0])} />
          </linearGradient>
        </defs>
        <line x1={7.5} y1={4} x2={7.5} y2={692} stroke="#333" strokeWidth={1} />
        <line x1={7} y1={4.5} x2={1230} y2={4.5} stroke="#333" strokeWidth={1} />
        <text x={1228} y={25} fontSize={20.8} textAnchor="end" fill="#000">{`N = ${N_TOTAL}`}</text>
        {strips.map((s, i) => (
          <g key={i}>
            <rect x={s.x + 0.5} y={s.y + 0.5} width={s.w - 1} height={24} fill="#fff" stroke="#d4d4d4" strokeWidth={1} />
            <text x={s.x + s.w / 2} y={s.y + 18.5} fontSize={16.8} textAnchor="middle" fill="#1a1a1a">{PANEL_TITLES[i]}</text>
          </g>
        ))}
        <text x={647} y={539} fontSize={21.3} textAnchor="middle" fill="#000">Mean Sentiment on Channel Level</text>
        <text transform="translate(28,282) rotate(-90)" fontSize={21.3} textAnchor="middle" fill="#000">SD Sentiment on Channel Level</text>
        <text x={466.5} y={580} fontSize={20.6} fill="#000">Channel Age</text>
        <rect x={BAR.x} y={BAR.y} width={BAR.w} height={BAR.h} fill="url(#ageGrad)" />
        {AGE_LEGEND.map((a) => (
          <g key={a}>
            <line x1={BAR.x} x2={BAR.x + 3.5} y1={ageY(a)} y2={ageY(a)} stroke="#fff" strokeWidth={1} />
            <line x1={BAR.x + BAR.w - 3.5} x2={BAR.x + BAR.w} y1={ageY(a)} y2={ageY(a)} stroke="#fff" strokeWidth={1} />
            <text x={494} y={ageY(a) + 6} fontSize={16.5} fill="#1a1a1a">{a}</text>
          </g>
        ))}
        <text x={611.5} y={580} fontSize={20.8} fill="#000">Subscriber [in 100.000]</text>
        {SUB_LEGEND.map((s, i) => (
          <g key={s}>
            <circle cx={620} cy={602 + i * 18.5} r={subRadius(s)} fill="#333" fillOpacity={0.85} />
            <text x={639} y={602 + i * 18.5 + 6} fontSize={16.5} fill="#1a1a1a">{s}</text>
          </g>
        ))}
      </svg>
    </div>
  );
}
